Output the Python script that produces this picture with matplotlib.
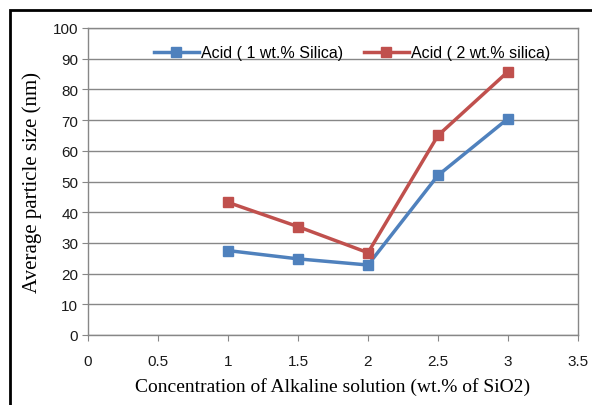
import matplotlib
matplotlib.use("Agg")
import matplotlib.pyplot as plt
from matplotlib.patches import Rectangle

x_vals = [1, 1.5, 2, 2.5, 3]
acid_1 = [27.5, 24.8, 22.8, 52.0, 70.5]
acid_2 = [43.2, 35.3, 26.8, 65.0, 85.8]
labels = ["Acid ( 1 wt.% Silica)", "Acid ( 2 wt.% silica)"]
x_ticks = [0, 0.5, 1, 1.5, 2, 2.5, 3, 3.5]
x_tick_labels = ["0", "0.5", "1", "1.5", "2", "2.5", "3", "3.5"]
y_ticks = list(range(0, 101, 10))

fig = plt.figure(figsize=(5.92, 4.06), dpi=100)
ax = fig.add_axes([88/592, 1-336/406, (578-88)/592, (336-29)/406])

fig.patches.append(Rectangle((10/592, -0.1), 1.2, 1 - 11/406 + 0.1, transform=fig.transFigure,
                             fill=False, edgecolor='black', linewidth=2, zorder=0))

blue = '#4F81BD'
red = '#C0504D'
ax.plot(x_vals, acid_1, color=blue, lw=2.5, marker='s', markersize=7, label=labels[0], zorder=3)
ax.plot(x_vals, acid_2, color=red, lw=2.5, marker='s', markersize=7, label=labels[1], zorder=3)

ax.set_xlim(0, 3.5)
ax.set_ylim(0, 100)
ax.set_xticks(x_ticks)
ax.set_xticklabels(x_tick_labels)
ax.set_yticks(y_ticks)
ax.grid(axis='y', color='#878787', lw=1)
ax.set_axisbelow(True)
for s in ax.spines.values():
    s.set_color('#878787')
    s.set_linewidth(1)
ax.tick_params(direction='out', length=4, color='#878787', labelsize=11, pad=3, labelcolor='#1a1a1a')
for lab in ax.get_xticklabels() + ax.get_yticklabels():
    lab.set_fontfamily('Liberation Sans')
ax.tick_params(axis='x', pad=10)

ax.set_xlabel("Concentration of Alkaline solution (wt.% of SiO2)", fontfamily='Liberation Serif',
              fontsize=14, labelpad=6)
ax.set_ylabel("Average particle size (nm)", fontfamily='Liberation Serif', fontsize=15, labelpad=8)

leg = ax.legend(loc='upper center', ncol=2, frameon=False, bbox_to_anchor=(0.539, 0.99),
                prop={'family': 'Liberation Sans', 'size': 11.5}, handlelength=2.8,
                columnspacing=1.3, handletextpad=0.15)

fig.savefig("out.png", dpi=100)
